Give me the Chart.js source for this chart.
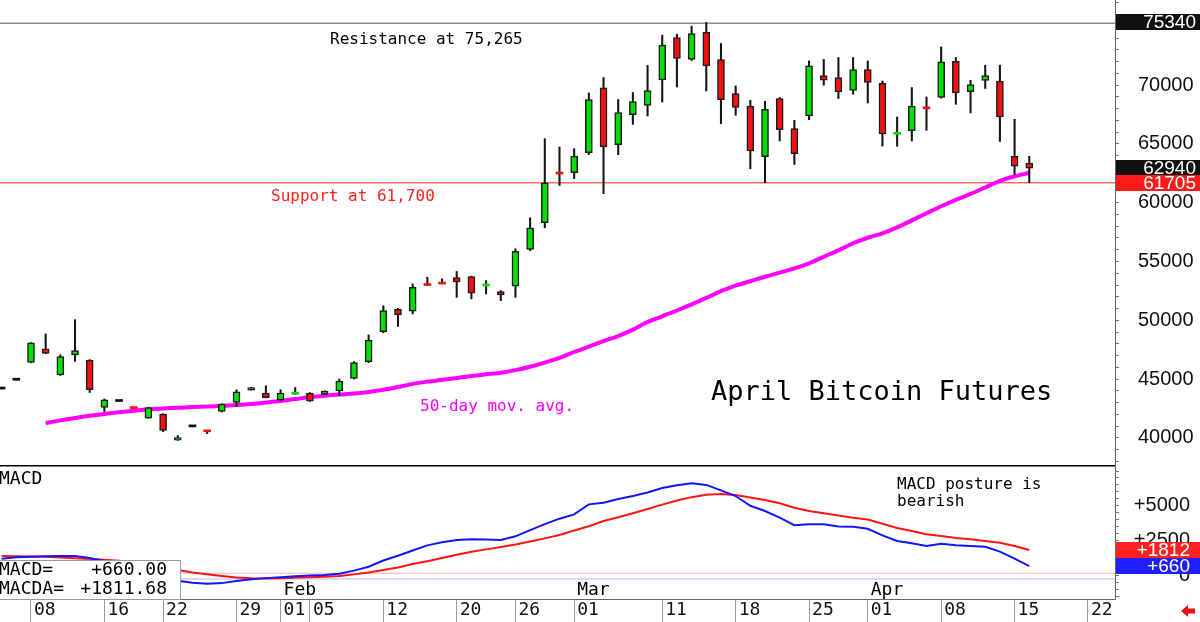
<!DOCTYPE html>
<html>
<head>
<meta charset="utf-8">
<script src="https://cdn.jsdelivr.net/npm/chart.js@4.4.1/dist/chart.umd.min.js"></script>
<style>
  html, body { margin: 0; padding: 0; background: #fff; }
  #wrap { position: relative; width: 1200px; height: 622px; overflow: hidden; }
  #price { position: absolute; left: 0; top: 0; }
  #macd { position: absolute; left: 0; top: 467px; }
</style>
</head>
<body>
<div id="wrap">
  <canvas id="price" width="1200" height="467"></canvas>
  <canvas id="macd" width="1200" height="155"></canvas>
</div>
<script>
// trading days Jan 4 .. Apr 16 (index = position on the x axis)
const opens = [44150,44900,46420,47580,45340,47045,46620,42580,43090,42520,
  41680,42020,39800,40930,40540,42240,43005,44060,43810,43210,
  43700,43810,43690,43980,45050,46470,49030,50930,50770,53000,
  53120,53630,53720,52920,52440,52900,56020,58300,62490,62560,
  64260,69770,64940,67500,68270,70450,74060,72190,74490,72190,
  69290,68230,63920,68860,66310,67380,70820,70650,69550,71340,
  70170,65820,66140,68030,68970,72040,69460,70400,70360,63950,63380];
const highs = [44150,44900,48100,48840,47070,50050,46650,43300,43090,42560,
  42600,42050,40190,40930,40560,42900,44090,44300,44430,44090,
  44280,43850,44000,45000,46480,48750,51240,51000,53100,53660,
  53520,54150,53750,53380,52525,56080,58720,65450,64740,64600,
  69340,70650,68780,69380,71680,74260,74340,75030,75340,73550,
  69940,68720,68630,68950,67010,72070,72190,72360,72360,72070,
  70360,67300,69800,69000,73260,72360,70420,71700,71700,67100,63950];
const lows = [44150,44900,46380,47150,45300,46500,43860,42240,43090,42470,
  41650,40530,39780,40930,40360,42200,42665,44050,43400,43180,
  43690,43100,43680,43580,45000,46400,48950,49480,50540,52950,
  53080,51950,51820,52240,51670,51950,55930,57870,61470,62050,
  64100,60770,64090,66670,67380,68570,69850,72100,69510,66730,
  67440,62900,61700,65250,63260,67070,70000,68860,69230,68490,
  64820,64800,65250,66160,68900,68380,67640,69720,65220,62410,61705];
const closes = [44150,44900,48070,47180,46900,47410,44090,43235,43090,42490,
  42580,40620,40020,40930,40510,42870,43920,44280,43410,43810,
  43740,43125,43980,44830,46390,48320,50820,50450,52810,52960,
  53080,53270,52310,52970,52160,55860,57870,61700,62440,63970,
  68780,64740,67670,68610,69550,73410,72270,74400,71640,68780,
  68100,64400,67950,66220,64180,71640,70420,69430,71340,70230,
  65850,65880,68230,67990,71980,69340,70060,70820,67300,63120,62940];

// 50-day moving average, starts at index 3
const maStart = 3;
const ma50 = [41250,41480,41680,41870,42030,42170,42300,42420,42500,42560,
  42610,42660,42720,42790,42880,43000,43130,43300,43460,43580,
  43680,43760,43900,44080,44320,44590,44780,44930,45080,45250,
  45400,45540,45760,46050,46400,46800,47300,47750,48230,48650,
  49200,49850,50340,50830,51350,51900,52480,52950,53320,53700,
  54050,54420,54850,55400,55950,56550,57020,57400,57900,58500,
  59100,59700,60250,60750,61300,61850,62250,62550];

const macdLine = [1190,1300,1330,1360,1380,1380,1240,1020,700,380,
  80,-200,-400,-540,-610,-570,-420,-290,-210,-140,
  -80,-20,20,110,330,610,1060,1400,1780,2150,
  2370,2540,2590,2570,2540,2800,3250,3680,4070,4380,
  5100,5220,5480,5700,5950,6280,6470,6620,6500,6110,
  5700,5000,4620,4140,3600,3660,3660,3500,3490,3340,
  2870,2460,2300,2100,2260,2150,2100,2050,1700,1190,660];
const macdAvg = [1380,1360,1340,1320,1270,1220,1170,1110,1050,880,
  700,520,370,200,65,-60,-170,-225,-230,-215,
  -190,-150,-110,-60,60,190,370,560,800,1010,
  1240,1470,1690,1860,2030,2210,2420,2650,2900,3220,
  3530,3900,4170,4460,4770,5080,5380,5620,5795,5846,
  5780,5590,5420,5176,4860,4620,4460,4300,4140,4010,
  3710,3400,3180,2950,2830,2680,2585,2460,2330,2100,1811.68];
const macdGuides = [140, -270];

const resistance = 75265;
const support = 61700;

const priceLabels = [40000, 45000, 50000, 55000, 60000, 65000, 70000];
const macdLabels = [0, 2500, 5000];
const dateTickIdx = [2,7,11,16,19,21,26,31,35,39,45,50,55,59,64,69,74];
const dateTickLabels = ['08','16','22','29','01','05','12','20','26','01','11','18','25','01','08','15','22'];
const monthIdx = [19, 39, 59];
const monthNames = ['Feb', 'Mar', 'Apr'];

const X_MIN = -0.11, X_MAX = 75.84;
const P_MIN = 37600, P_MAX = 77250;
const M_MIN = -1713, M_MAX = 7790;
const GREEN = '#00e000', RED = '#f50f0f';
const MONO = '"DejaVu Sans Mono", monospace';
const SANS = '"Liberation Sans", Arial, sans-serif';
const AXIS_FONT = '19px ' + SANS;

const isDash = i => Math.abs(closes[i] - opens[i]) < 120;
const bodyColor = i => {
  const d = closes[i] - opens[i];
  if (d === 0) return '#111';
  return d > 0 ? GREEN : RED;
};

function txt(ctx, s, x, y, color, font, align) {
  ctx.save();
  ctx.font = font;
  ctx.fillStyle = color;
  ctx.textAlign = align || 'left';
  ctx.textBaseline = 'middle';
  ctx.fillText(s, x, y);
  ctx.restore();
}

function tag(chart, value, label, bg, right) {
  const ctx = chart.ctx;
  const y = Math.round(chart.scales.y.getPixelForValue(value));
  ctx.save();
  ctx.fillStyle = bg;
  ctx.fillRect(chart.chartArea.right + 1, y - 8, chart.width - chart.chartArea.right - 1, 16);
  ctx.restore();
  txt(ctx, label, right, y + 1, '#fff', AXIS_FONT, 'right');
}

function noPad(s) {
  s.paddingTop = 0; s.paddingBottom = 0; s.paddingLeft = 0; s.paddingRight = 0;
}

// every minor step between lo and hi, labels are picked by the callback
function minorTicks(lo, hi, step) {
  const out = [];
  for (let v = Math.ceil(lo / step) * step; v <= hi; v += step) out.push({value: v});
  return out;
}

const priceNotes = {
  id: 'priceNotes',
  afterDatasetsDraw(chart) {
    const ctx = chart.ctx;
    txt(ctx, 'Resistance at ' + resistance.toLocaleString('en-US'), 330, 40, '#000', '16px ' + MONO);
    txt(ctx, 'Support at ' + support.toLocaleString('en-US'), 271, 197, '#ff2020', '16px ' + MONO);
    txt(ctx, '50-day mov. avg.', 420, 407, '#ff00ff', '16px ' + MONO);
    txt(ctx, 'April Bitcoin Futures', 711, 393, '#000', '27px ' + MONO);
  },
  afterDraw(chart) {
    const last = closes.length - 1;
    tag(chart, Math.max(...highs), String(Math.max(...highs)), '#111', 1196);
    tag(chart, closes[last], String(closes[last]), '#111', 1196);
    tag(chart, lows[last], String(lows[last]), '#ff1a1a', 1196);
  }
};

const macdNotes = {
  id: 'macdNotes',
  afterDatasetsDraw(chart) {
    const ctx = chart.ctx;
    const x = chart.scales.x;
    const area = chart.chartArea;
    txt(ctx, 'MACD', -1, 12, '#000', '18px ' + MONO);
    txt(ctx, 'MACD posture is', 897, 18, '#000', '16px ' + MONO);
    txt(ctx, 'bearish', 897, 35, '#000', '16px ' + MONO);
    monthIdx.forEach((m, k) => {
      txt(ctx, monthNames[k], x.getPixelForValue(m) + 3, 123, '#000', '18px ' + MONO);
    });
    // last value box
    const last = macdLine.length - 1;
    const sign = v => (v >= 0 ? '+' : '') + v.toFixed(2);
    ctx.save();
    ctx.fillStyle = '#fff';
    ctx.fillRect(0, 94, 180, area.bottom - 94);
    ctx.strokeStyle = '#9a9a9a';
    ctx.lineWidth = 1;
    ctx.strokeRect(-1, 93.5, 181.5, area.bottom - 93);
    ctx.restore();
    txt(ctx, 'MACD=', -1, 103, '#000', '18px ' + MONO);
    txt(ctx, sign(macdLine[last]), 167, 103, '#000', '18px ' + MONO, 'right');
    txt(ctx, 'MACDA=', -1, 122, '#000', '18px ' + MONO);
    txt(ctx, sign(macdAvg[last]), 167, 122, '#000', '18px ' + MONO, 'right');
  },
  afterDraw(chart) {
    const last = macdLine.length - 1;
    tag(chart, macdAvg[last], '+' + Math.round(macdAvg[last]), '#ff2020', 1190);
    tag(chart, macdLine[last], '+' + Math.round(macdLine[last]), '#1f1fff', 1190);
    // small red arrow bottom right
    const ctx = chart.ctx;
    ctx.save();
    ctx.fillStyle = '#e81010';
    ctx.beginPath();
    ctx.moveTo(1181, 144);
    ctx.lineTo(1188, 138);
    ctx.lineTo(1188, 141.5);
    ctx.lineTo(1195, 141.5);
    ctx.lineTo(1195, 146.5);
    ctx.lineTo(1188, 146.5);
    ctx.lineTo(1188, 150);
    ctx.closePath();
    ctx.fill();
    ctx.restore();
  }
};

const levelLine = (v, color) => ({
  type: 'line',
  data: [{x: X_MIN, y: v}, {x: X_MAX, y: v}],
  borderColor: color,
  borderWidth: 1.5,
  pointRadius: 0,
  order: 3
});

new Chart(document.getElementById('price'), {
  type: 'bar',
  data: {
    datasets: [
      {
        label: 'body',
        data: opens.map((o, i) => ({x: i, y: [o, closes[i]]})),
        backgroundColor: c => bodyColor(c.dataIndex),
        borderColor: '#1c1c1c',
        borderWidth: c => isDash(c.dataIndex) ? 0 : 1.5,
        borderSkipped: false,
        barThickness: 7,
        minBarLength: 2,
        grouped: false,
        order: 0
      },
      {
        label: 'wick',
        data: lows.map((l, i) => ({x: i, y: [l, highs[i]]})),
        backgroundColor: '#151515',
        borderWidth: 0,
        barThickness: 1.4,
        grouped: false,
        order: 1
      },
      {
        type: 'line',
        label: '50-day',
        data: ma50.map((v, k) => ({x: k + maStart, y: v})),
        borderColor: '#ff00ff',
        borderWidth: 4,
        pointRadius: 0,
        tension: 0.3,
        order: 2
      },
      levelLine(resistance, '#8c8c8c'),
      levelLine(support, '#ff6a6a')
    ]
  },
  options: {
    responsive: false,
    animation: false,
    layout: { padding: 0 },
    plugins: { legend: { display: false }, tooltip: { enabled: false } },
    scales: {
      x: {
        type: 'linear', min: X_MIN, max: X_MAX, offset: false,
        ticks: { display: false },
        grid: { display: false, drawTicks: false },
        border: { display: true, color: '#000', width: 1.5 },
        afterFit: s => { s.height = 1; noPad(s); }
      },
      y: {
        type: 'linear', position: 'right', min: P_MIN, max: P_MAX,
        afterBuildTicks: s => { s.ticks = minorTicks(P_MIN, P_MAX, 1000); },
        ticks: {
          autoSkip: false, padding: 19, display: true,
          font: { family: SANS, size: 20 },
          color: '#111',
          callback: v => priceLabels.includes(v) ? String(v) : ''
        },
        grid: { drawOnChartArea: false, drawTicks: true, tickLength: 4, color: '#777' },
        border: { color: '#666' },
        afterFit: s => { s.width = 85; noPad(s); }
      }
    }
  },
  plugins: [priceNotes]
});

new Chart(document.getElementById('macd'), {
  type: 'line',
  data: {
    datasets: [
      {
        label: 'MACD',
        data: macdLine.map((v, i) => ({x: i, y: v})),
        borderColor: '#1414ff', borderWidth: 2, pointRadius: 0, order: 0
      },
      {
        label: 'MACDA',
        data: macdAvg.map((v, i) => ({x: i, y: v})),
        borderColor: '#ff1414', borderWidth: 2, pointRadius: 0, order: 1
      },
      {
        data: [{x: X_MIN, y: macdGuides[0]}, {x: X_MAX, y: macdGuides[0]}],
        borderColor: '#ffb4b4', borderWidth: 1, pointRadius: 0, order: 2
      },
      {
        data: [{x: X_MIN, y: macdGuides[1]}, {x: X_MAX, y: macdGuides[1]}],
        borderColor: '#b8b8ff', borderWidth: 1, pointRadius: 0, order: 2
      }
    ]
  },
  options: {
    responsive: false,
    animation: false,
    layout: { padding: 0 },
    plugins: { legend: { display: false }, tooltip: { enabled: false } },
    scales: {
      x: {
        type: 'linear', min: X_MIN, max: X_MAX, offset: false,
        afterBuildTicks: s => { s.ticks = dateTickIdx.map(v => ({value: v})); },
        ticks: {
          autoSkip: false, maxRotation: 0, minRotation: 0,
          align: 'start', labelOffset: 3, padding: -22,
          font: { family: MONO, size: 18 },
          color: '#111',
          callback: (v, i) => dateTickLabels[i]
        },
        grid: { drawOnChartArea: false, tickLength: 23, color: '#9a9a9a' },
        border: { display: true, color: '#666' },
        afterFit: s => { s.height = 23; noPad(s); }
      },
      y: {
        type: 'linear', position: 'right', min: M_MIN, max: M_MAX,
        afterBuildTicks: s => { s.ticks = minorTicks(M_MIN, M_MAX, 500); },
        ticks: {
          autoSkip: false, padding: 14, crossAlign: 'far', display: true,
          font: { family: SANS, size: 20 },
          color: '#111',
          // en space keeps the right-aligned labels off the canvas edge
          callback: v => macdLabels.includes(v) ? (v > 0 ? '+' + v : String(v)) + '\u2002' : ''
        },
        grid: { drawOnChartArea: false, drawTicks: true, tickLength: 4, color: '#777' },
        border: { color: '#666' },
        afterFit: s => { s.width = 85; noPad(s); }
      }
    }
  },
  plugins: [macdNotes]
});
</script>
</body>
</html>
